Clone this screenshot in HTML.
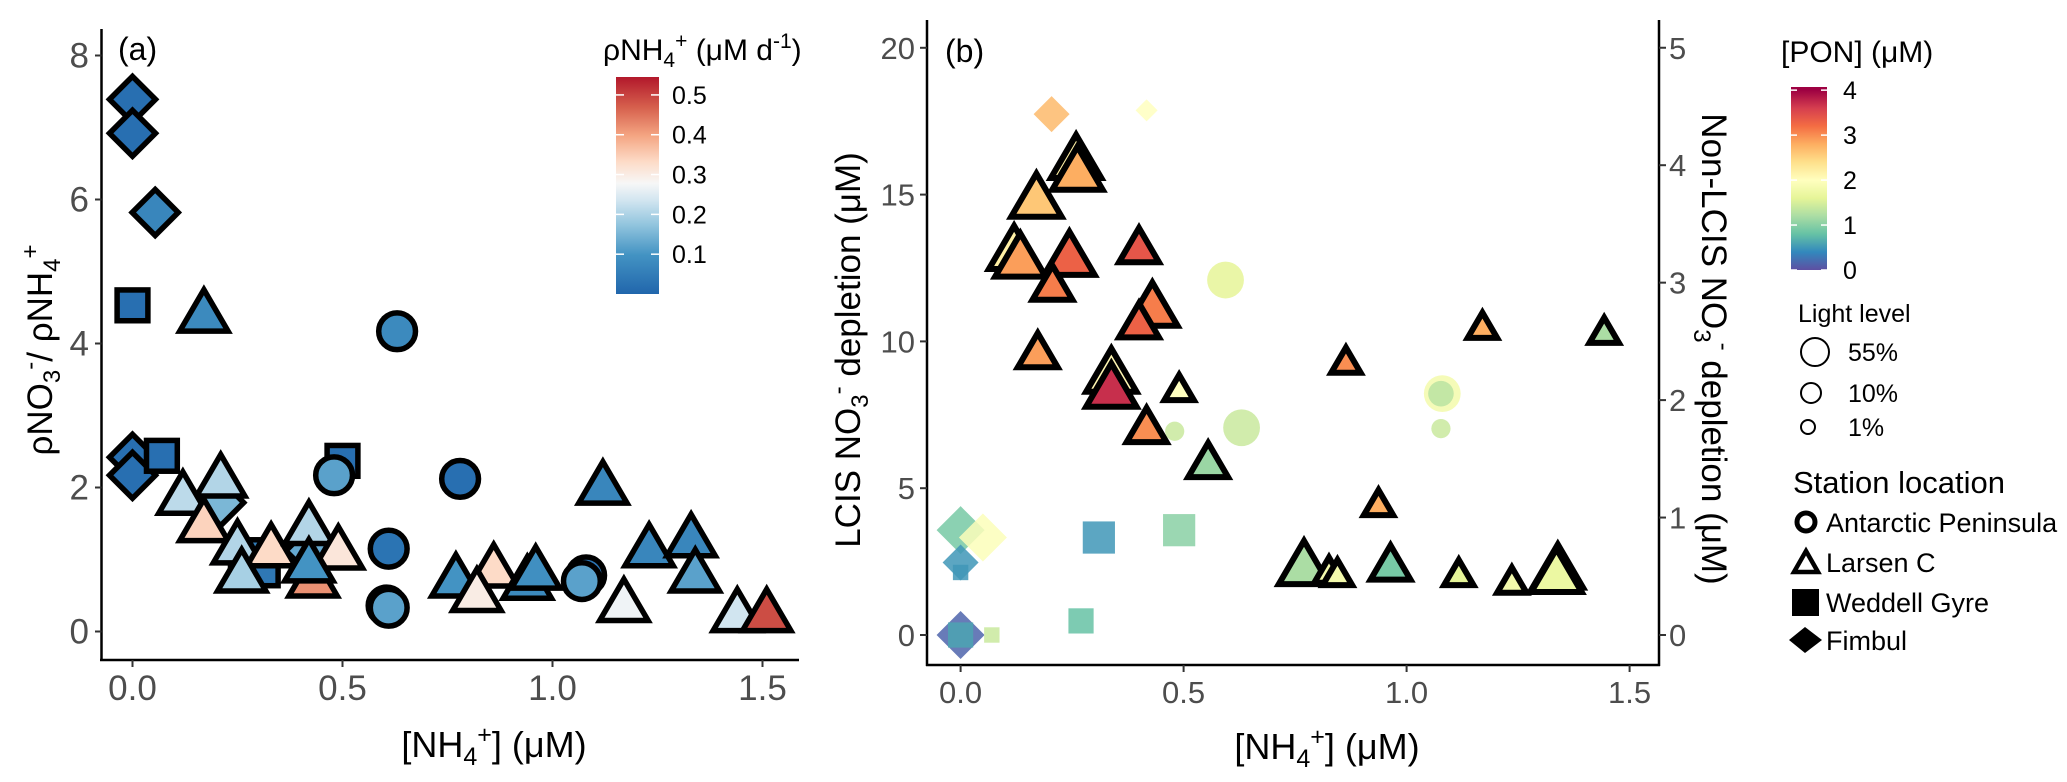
<!DOCTYPE html>
<html><head><meta charset="utf-8"><style>
html,body{margin:0;padding:0;background:#fff;}
svg{display:block;font-family:"Liberation Sans",Arial,sans-serif;}
</style></head><body>
<svg id="chart" width="2067" height="782" viewBox="0 0 2067 782" xmlns="http://www.w3.org/2000/svg">
<defs>
<linearGradient id="gradA" x1="0" y1="1" x2="0" y2="0">
<stop offset="0" stop-color="#2166ac"/><stop offset="0.18" stop-color="#4393c3"/><stop offset="0.32" stop-color="#92c5de"/><stop offset="0.43" stop-color="#d1e5f0"/><stop offset="0.51" stop-color="#f7f7f7"/><stop offset="0.61" stop-color="#fddbc7"/><stop offset="0.73" stop-color="#f4a582"/><stop offset="0.86" stop-color="#d6604d"/><stop offset="1" stop-color="#b2182b"/>
</linearGradient>
<linearGradient id="gradB" x1="0" y1="1" x2="0" y2="0">
<stop offset="0" stop-color="#5e4fa2"/><stop offset="0.098" stop-color="#3288bd"/><stop offset="0.197" stop-color="#66c2a5"/><stop offset="0.295" stop-color="#abdda4"/><stop offset="0.393" stop-color="#e6f598"/><stop offset="0.49" stop-color="#ffffbf"/><stop offset="0.59" stop-color="#fee08b"/><stop offset="0.688" stop-color="#fdae61"/><stop offset="0.786" stop-color="#f46d43"/><stop offset="0.885" stop-color="#d53e4f"/><stop offset="0.983" stop-color="#9e0142"/><stop offset="1" stop-color="#9e0142"/>
</linearGradient>
</defs>
<g id="panelA"></g>
<g id="panelB"></g>
<g id="legends"></g>
</svg>
<script>
// ---- Panel (a) data ----
const aShape = ["d","d","d","d","d","d","d","s","s","s","s","s","c","c","c","c","c","c","c","c","t","t","t","t","t","t","t","t","t","t","t","t","t","t","t","t","t","t","t","t","t","t","t"];
const aNH4 =   [0,0,0.054,0,0,0.21,0.42,0,0.07,0.5,0.27,0.31,0.63,0.48,0.78,0.61,0.605,0.61,1.08,1.07,0.17,1.12,0.21,0.12,0.17,0.25,0.33,0.42,0.49,0.26,0.43,0.42,0.77,0.86,0.82,0.94,0.96,1.17,1.23,1.33,1.34,1.44,1.51];
const aRatio = [7.39,6.92,5.82,2.42,2.17,1.79,1.12,4.53,2.44,2.37,1.06,0.85,4.17,2.17,2.12,1.15,0.36,0.33,0.78,0.70,4.46,2.07,2.17,1.93,1.55,1.24,1.2,1.51,1.17,0.85,0.78,0.99,0.78,0.92,0.58,0.75,0.89,0.44,1.2,1.34,0.85,0.30,0.30];
const aRate =  [0.02,0.02,0.07,0.02,0.02,0.15,0.13,0.02,0.02,0.02,0.05,0.04,0.08,0.12,0.02,0.03,0.03,0.12,0.03,0.12,0.08,0.07,0.20,0.21,0.34,0.20,0.33,0.20,0.31,0.19,0.42,0.10,0.10,0.33,0.30,0.08,0.09,0.27,0.07,0.07,0.12,0.23,0.49];
const aXTicks = [0,0.5,1.0,1.5];
const aXTickLabels = ["0.0","0.5","1.0","1.5"];
const aYTicks = [0,2,4,6,8];
const aCbTicks = [0.1,0.2,0.3,0.4,0.5];

// ---- Panel (b) data ----
const bShape = ["d","d","d","d","d","d","s","s","s","s","s","s","c","c","c","c","c","c","t","t","t","t","t","t","t","t","t","t","t","t","t","t","t","t","t","t","t","t","t","t","t","t","t","t","t","t"];
const bNH4 =   [0.204,0.417,0,0.05,0,0,0,0.31,0.49,0.27,0.07,0,0.594,0.63,0.48,1.08,1.077,1.077,0.259,0.262,0.17,0.12,0.134,0.244,0.206,0.40,0.43,0.40,0.173,0.338,0.338,0.49,0.417,0.555,0.864,1.17,1.443,0.937,0.77,0.826,0.845,0.964,1.117,1.236,1.339,1.336];
const bDepl =  [17.74,17.87,3.57,3.32,2.47,0,2.13,3.32,3.57,0.48,0,0,12.09,7.06,6.94,8.22,8.22,7.03,16.3,15.9,14.98,13.2,12.94,13.0,12.0,13.28,11.27,10.72,9.7,9.02,8.51,8.43,7.15,5.96,9.36,10.55,10.38,4.51,2.47,2.21,2.13,2.47,2.13,1.87,2.35,2.2];
const bPON =   [2.7,2.0,0.9,1.95,0.5,0.15,0.5,0.5,1.0,0.8,1.4,0.6,1.6,1.4,1.4,1.8,1.3,1.4,2.2,2.8,2.6,2.2,2.9,3.3,3.1,3.4,3.1,3.3,2.9,2.1,3.7,2.0,3.0,1.1,3.0,2.8,1.2,2.8,1.2,1.8,1.8,0.9,1.6,1.8,2.0,1.7];
const bLight = ["M","S","L","L","M","L","S","L","L","M","S","M","L","L","S","L","M","S","L","L","L","L","L","L","M","M","L","M","M","L","L","S","M","M","S","S","S","S","L","S","S","M","S","S","L","L"];
const bXTicks = [0,0.5,1.0,1.5];
const bXTickLabels = ["0.0","0.5","1.0","1.5"];
const bYTicks = [0,5,10,15,20];
const bY2Ticks = [0,1,2,3,4,5];
const bCbTicks = [0,1,2,3,4];

const NS = "http://www.w3.org/2000/svg";
function mk(parent, tag, attrs, text){
  const e = document.createElementNS(NS, tag);
  for (const k in attrs) e.setAttribute(k, attrs[k]);
  if (text !== undefined) e.textContent = text;
  parent.appendChild(e);
  return e;
}
function lerpHex(c1,c2,t){
  const a=parseInt(c1.slice(1),16), b=parseInt(c2.slice(1),16);
  const r=Math.round(((a>>16)&255)*(1-t)+((b>>16)&255)*t);
  const g=Math.round(((a>>8)&255)*(1-t)+((b>>8)&255)*t);
  const bl=Math.round((a&255)*(1-t)+(b&255)*t);
  return "rgb("+r+","+g+","+bl+")";
}
function scaleColor(stops, cols, v){
  if (v<=stops[0]) return cols[0];
  for (let i=1;i<stops.length;i++){
    if (v<=stops[i]) return lerpHex(cols[i-1],cols[i],(v-stops[i-1])/(stops[i]-stops[i-1]));
  }
  return cols[cols.length-1];
}
const rdStops=[0,0.1,0.17,0.23,0.28,0.33,0.4,0.47,0.545];
const rdCols=["#2166ac","#4393c3","#92c5de","#d1e5f0","#f7f7f7","#fddbc7","#f4a582","#d6604d","#b2182b"];
const spStops=[0,0.4,0.8,1.2,1.6,2.0,2.4,2.8,3.2,3.6,4.0];
const spCols=["#5e4fa2","#3288bd","#66c2a5","#abdda4","#e6f598","#ffffbf","#fee08b","#fdae61","#f46d43","#d53e4f","#9e0142"];

function drawMarker(g, shape, cx, cy, s, fill, stroke, sw, op){
  let el;
  if (shape==="c") el = mk(g,"circle",{cx:cx,cy:cy,r:s*0.8});
  else if (shape==="s") el = mk(g,"rect",{x:cx-s*0.7,y:cy-s*0.7,width:s*1.4,height:s*1.4});
  else if (shape==="d") el = mk(g,"polygon",{points:`${cx},${cy-s} ${cx+s},${cy} ${cx},${cy+s} ${cx-s},${cy}`});
  else { const w=s*1.05, h=s*0.9; el = mk(g,"polygon",{points:`${cx},${cy-h} ${cx+w},${cy+h} ${cx-w},${cy+h}`,"stroke-linejoin":"miter"}); }
  el.setAttribute("fill", fill);
  el.setAttribute("stroke", stroke);
  el.setAttribute("stroke-width", sw);
  if (op<1) el.setAttribute("fill-opacity", op);
  return el;
}

// ---------- Panel A ----------
const A = document.getElementById("panelA");
const axA = v => 132.5 + v*420;
const ayA = v => 631.5 - v*72;
mk(A,"line",{x1:101.5,y1:29,x2:101.5,y2:661,stroke:"#000","stroke-width":2.5});
mk(A,"line",{x1:100,y1:660,x2:799,y2:660,stroke:"#000","stroke-width":2.5});
aYTicks.forEach(t=>{
  mk(A,"line",{x1:95,y1:ayA(t),x2:101.5,y2:ayA(t),stroke:"#333","stroke-width":2});
  const l=mk(A,"text",{x:89,y:ayA(t)+12,"text-anchor":"end","font-size":35,fill:"#4d4d4d"},String(t));
  
  
});
aXTicks.forEach((t,i)=>{
  mk(A,"line",{x1:axA(t),y1:660,x2:axA(t),y2:667,stroke:"#333","stroke-width":2});
  const l=mk(A,"text",{x:axA(t),y:700,"text-anchor":"middle","font-size":35,fill:"#4d4d4d"},aXTickLabels[i]);
  
  
});
const pa = mk(A,"text",{x:118,y:60,"font-size":32,fill:"#000"},"(a)");


const ya = mk(A,"text",{x:0,y:0,"font-size":35,fill:"#000","text-anchor":"middle",transform:"translate(52,350) rotate(-90)"});
ya.innerHTML='ρNO<tspan font-size="24" dy="8">3</tspan><tspan font-size="24" dy="-22">-</tspan><tspan dy="14">/ ρNH</tspan><tspan font-size="24" dy="8">4</tspan><tspan font-size="24" dy="-22">+</tspan>';


const xa = mk(A,"text",{x:494,y:757,"font-size":36,fill:"#000","text-anchor":"middle"});
xa.innerHTML='[NH<tspan font-size="25" dy="8">4</tspan><tspan font-size="25" dy="-22">+</tspan><tspan dy="14">] (μM)</tspan>';


const gA = mk(A,"g",{});


const sizeA = {d:23,s:22,c:23,t:23};
aShape.forEach((sh,i)=>{
  const m = drawMarker(gA, sh, axA(aNH4[i]), ayA(aRatio[i]), sizeA[sh], scaleColor(rdStops,rdCols,aRate[i]), "#000", 5.5, 1);
  
  
});
// colorbar A
const cbA = {x:616,w:43,top:77,bot:294,max:0.545};
const cbAy = v => cbA.bot - v/cbA.max*(cbA.bot-cbA.top);
const cbAr = mk(A,"rect",{x:cbA.x,y:cbA.top,width:cbA.w,height:cbA.bot-cbA.top,fill:"url(#gradA)"});


aCbTicks.forEach(t=>{
  mk(A,"line",{x1:cbA.x,y1:cbAy(t),x2:cbA.x+8,y2:cbAy(t),stroke:"#fff","stroke-width":1.5});
  mk(A,"line",{x1:cbA.x+cbA.w-8,y1:cbAy(t),x2:cbA.x+cbA.w,y2:cbAy(t),stroke:"#fff","stroke-width":1.5});
  const l=mk(A,"text",{x:672,y:cbAy(t)+9,"font-size":25,fill:"#000"},t.toFixed(1));
  
  
});
const cta = mk(A,"text",{x:603,y:60,"font-size":30,fill:"#000"});
cta.innerHTML='ρNH<tspan font-size="21" dy="7">4</tspan><tspan font-size="21" dy="-19">+</tspan><tspan dy="12"> (μM d</tspan><tspan font-size="21" dy="-12">-1</tspan><tspan dy="12">)</tspan>';



// ---------- Panel B ----------
const B = document.getElementById("panelB");
const axB = v => 960.6 + v*446;
const ayB = v => 635 - v*29.36;
const ayB2 = v => 635 - v*117.45;
mk(B,"line",{x1:927,y1:20,x2:927,y2:666,stroke:"#000","stroke-width":2.5});
mk(B,"line",{x1:926,y1:665,x2:1660,y2:665,stroke:"#000","stroke-width":2.5});
mk(B,"line",{x1:1659,y1:20,x2:1659,y2:666,stroke:"#000","stroke-width":2.5});
bYTicks.forEach(t=>{
  mk(B,"line",{x1:920,y1:ayB(t),x2:927,y2:ayB(t),stroke:"#333","stroke-width":2});
  const l=mk(B,"text",{x:915,y:ayB(t)+11,"text-anchor":"end","font-size":31,fill:"#4d4d4d"},String(t));
  
  
});
bY2Ticks.forEach(t=>{
  mk(B,"line",{x1:1659,y1:ayB2(t),x2:1666,y2:ayB2(t),stroke:"#333","stroke-width":2});
  const l=mk(B,"text",{x:1669,y:ayB2(t)+11,"font-size":31,fill:"#4d4d4d"},String(t));
  
  
});
bXTicks.forEach((t,i)=>{
  mk(B,"line",{x1:axB(t),y1:665,x2:axB(t),y2:672,stroke:"#333","stroke-width":2});
  const l=mk(B,"text",{x:axB(t),y:703,"text-anchor":"middle","font-size":31,fill:"#4d4d4d"},bXTickLabels[i]);
  
  
});
const pb = mk(B,"text",{x:945,y:62,"font-size":32,fill:"#000"},"(b)");


const yb = mk(B,"text",{x:0,y:0,"font-size":35,fill:"#000","text-anchor":"middle",transform:"translate(860,350) rotate(-90)"});
yb.innerHTML='LCIS NO<tspan font-size="24" dy="8">3</tspan><tspan font-size="24" dy="-22">-</tspan><tspan dy="14"> depletion (μM)</tspan>';


const yb2 = mk(B,"text",{x:0,y:0,"font-size":35,fill:"#000","text-anchor":"middle",transform:"translate(1702,349) rotate(90)"});
yb2.innerHTML='Non-LCIS NO<tspan font-size="24" dy="8">3</tspan><tspan font-size="24" dy="-22">-</tspan><tspan dy="14"> depletion (μM)</tspan>';


const xb = mk(B,"text",{x:1327,y:759,"font-size":36,fill:"#000","text-anchor":"middle"});
xb.innerHTML='[NH<tspan font-size="25" dy="8">4</tspan><tspan font-size="25" dy="-22">+</tspan><tspan dy="14">] (μM)</tspan>';


const gB = mk(B,"g",{});


const sizeB = {L:{t:24,d:24,s:23,c:23},M:{t:19,d:18,s:18,c:16},S:{t:14,d:11,s:11,c:12}};
bShape.forEach((sh,i)=>{
  const s = sizeB[bLight[i]][sh];
  const isT = sh==="t";
  const m = drawMarker(gB, sh, axB(bNH4[i]), ayB(bDepl[i]), s, scaleColor(spStops,spCols,bPON[i]), isT?"#000":"none", isT?6:0, isT?1:0.85);
  
  
});

// ---------- Legends ----------
const L = document.getElementById("legends");
const ctb = mk(L,"text",{x:1781,y:62,"font-size":30,fill:"#000"},"[PON] (μM)");


const cbB = {x:1791,w:36,top:87,bot:270,max:4.07};
const cbBy = v => cbB.bot - v/cbB.max*(cbB.bot-cbB.top);
const cbBr = mk(L,"rect",{x:cbB.x,y:cbB.top,width:cbB.w,height:cbB.bot-cbB.top,fill:"url(#gradB)"});


bCbTicks.forEach(t=>{
  mk(L,"line",{x1:cbB.x,y1:cbBy(t),x2:cbB.x+6,y2:cbBy(t),stroke:"#fff","stroke-width":1.5});
  mk(L,"line",{x1:cbB.x+cbB.w-6,y1:cbBy(t),x2:cbB.x+cbB.w,y2:cbBy(t),stroke:"#fff","stroke-width":1.5});
  const l=mk(L,"text",{x:1843,y:cbBy(t)+9,"font-size":25,fill:"#000"},String(t));
  
  
});
const ll = mk(L,"text",{x:1798,y:322,"font-size":25,fill:"#000"},"Light level");


const lightR=[14,10,7], lightY=[352,393,427], lightX=[1815,1811,1808], lightLab=["55%","10%","1%"];
lightR.forEach((r,i)=>{
  const c=mk(L,"circle",{cx:lightX[i],cy:lightY[i],r:r,fill:"none",stroke:"#000","stroke-width":2});
  
  
  const t=mk(L,"text",{x:1848,y:lightY[i]+9,"font-size":25,fill:"#000"},lightLab[i]);
  
  
});
const sl = mk(L,"text",{x:1793,y:493,"font-size":31,fill:"#000"},"Station location");


const stY=[522,562,602,640], stLab=["Antarctic Peninsula","Larsen C","Weddell Gyre","Fimbul"], stSh=["c","t","s","d"];
stSh.forEach((sh,i)=>{
  let m;
  if (sh==="c") m=mk(L,"circle",{cx:1806,cy:stY[i],r:9,fill:"none",stroke:"#000","stroke-width":5});
  else if (sh==="t") m=mk(L,"polygon",{points:`1806,${stY[i]-11} 1818,${stY[i]+10} 1794,${stY[i]+10}`,fill:"none",stroke:"#000","stroke-width":4.5});
  else if (sh==="s") m=mk(L,"rect",{x:1792,y:stY[i]-13,width:27,height:27,fill:"#000"});
  else m=mk(L,"polygon",{points:`1805,${stY[i]-13} 1822,${stY[i]} 1805,${stY[i]+13} 1789,${stY[i]}`,fill:"#000"});
  
  
  const t=mk(L,"text",{x:1826,y:stY[i]+10,"font-size":27,fill:"#000"},stLab[i]);
  
  
});
</script>
</body></html>
